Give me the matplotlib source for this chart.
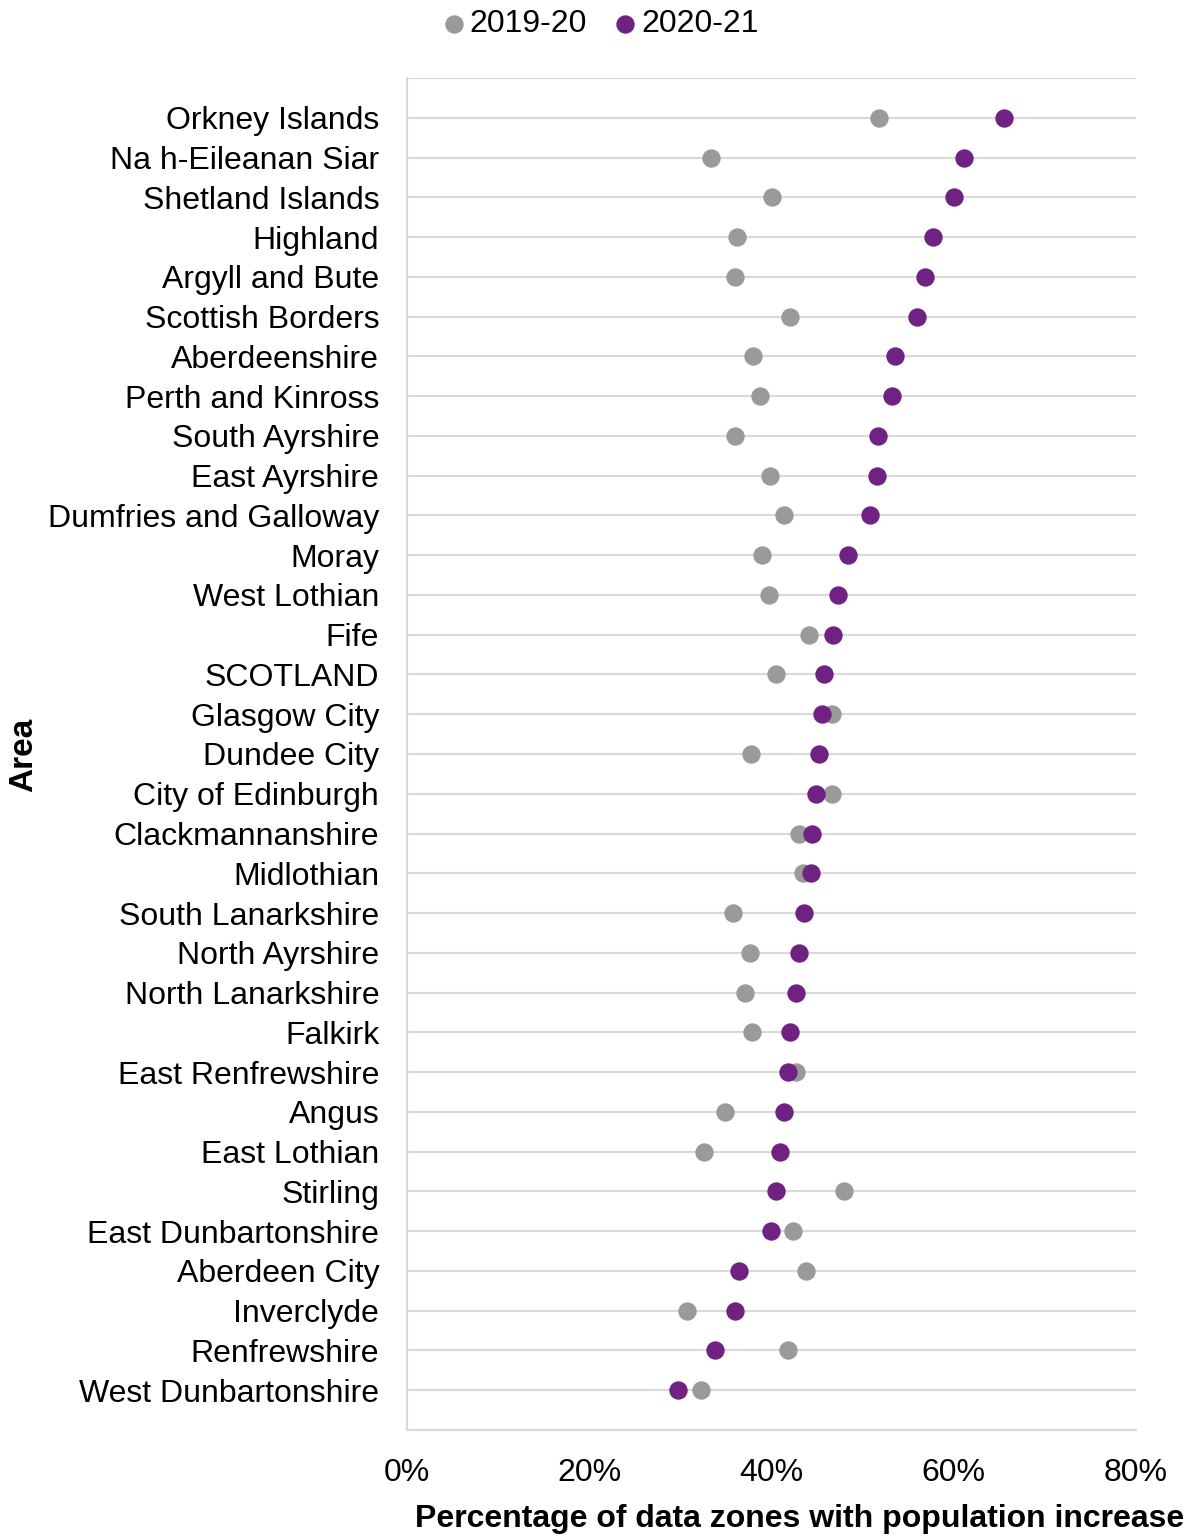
import matplotlib
matplotlib.use("Agg")
import matplotlib.pyplot as plt
from matplotlib.ticker import PercentFormatter

plt.rcParams['font.family'] = ['Liberation Sans', 'DejaVu Sans']

areas = ["Orkney Islands", "Na h-Eileanan Siar", "Shetland Islands", "Highland",
         "Argyll and Bute", "Scottish Borders", "Aberdeenshire", "Perth and Kinross",
         "South Ayrshire", "East Ayrshire", "Dumfries and Galloway", "Moray",
         "West Lothian", "Fife", "SCOTLAND", "Glasgow City", "Dundee City",
         "City of Edinburgh", "Clackmannanshire", "Midlothian", "South Lanarkshire",
         "North Ayrshire", "North Lanarkshire", "Falkirk", "East Renfrewshire",
         "Angus", "East Lothian", "Stirling", "East Dunbartonshire",
         "Aberdeen City", "Inverclyde", "Renfrewshire", "West Dunbartonshire"]

pct_2019_20 = [51.8, 33.4, 40.1, 36.2, 36.0, 42.0, 38.0, 38.7, 36.0, 39.8, 41.4,
               39.0, 39.7, 44.1, 40.5, 46.6, 37.8, 46.6, 43.0, 43.5, 35.8, 37.6,
               37.1, 37.9, 42.7, 34.9, 32.6, 48.0, 42.4, 43.8, 30.7, 41.8, 32.3]

pct_2020_21 = [65.5, 61.1, 60.0, 57.7, 56.8, 56.0, 53.6, 53.2, 51.7, 51.6, 50.8,
               48.4, 47.3, 46.7, 45.8, 45.5, 45.2, 44.9, 44.4, 44.3, 43.6, 43.0,
               42.7, 42.0, 41.8, 41.4, 40.9, 40.5, 39.9, 36.4, 36.0, 33.8, 29.7]

grey = "#9a9a9a"
purple = "#702283"
gridc = "#d9d9d9"

fig = plt.figure(figsize=(11.96, 15.37), dpi=100)
ax = fig.add_axes([407 / 1196, 1 - 1430 / 1537, 729 / 1196, 1352 / 1537])

ypos = list(range(len(areas)))
ax.scatter(pct_2019_20, ypos, s=175, color=grey, label="2019-20", zorder=3, linewidths=0)
ax.scatter(pct_2020_21, ypos, s=175, color=purple, label="2020-21", zorder=4, linewidths=0)

ax.set_xlim(0, 80)
ax.set_ylim(len(areas), -1.0)
ax.set_yticks(ypos)
ax.set_yticklabels(areas, fontsize=23)
ax.set_xticks([0, 20, 40, 60, 80])
ax.xaxis.set_major_formatter(PercentFormatter(decimals=0))
ax.tick_params(axis='x', labelsize=23, length=0, pad=20)
ax.tick_params(axis='y', length=0, pad=20)

for y in ypos + [-1.0]:
    ax.axhline(y, color=gridc, linewidth=1.5, zorder=1)

ax.spines["right"].set_visible(False)
ax.spines["top"].set_visible(False)
for side in ["left", "bottom"]:
    ax.spines[side].set_color(gridc)
    ax.spines[side].set_linewidth(1.5)

fig.text(800 / 1196, 1 - 1519 / 1537, "Percentage of data zones with population increase",
         ha="center", va="center", fontsize=23, fontweight="bold")
fig.text(24 / 1196, 1 - 755 / 1537, "Area", rotation=90, ha="center", va="center",
         fontsize=24, fontweight="bold")

fig.legend(loc="center", bbox_to_anchor=(600 / 1196, 1 - 24 / 1537), ncol=2, frameon=False,
           fontsize=23, handlelength=0.8, handletextpad=0.1, columnspacing=0.8,
           markerscale=1.0)

fig.savefig("out.png", dpi=100)
